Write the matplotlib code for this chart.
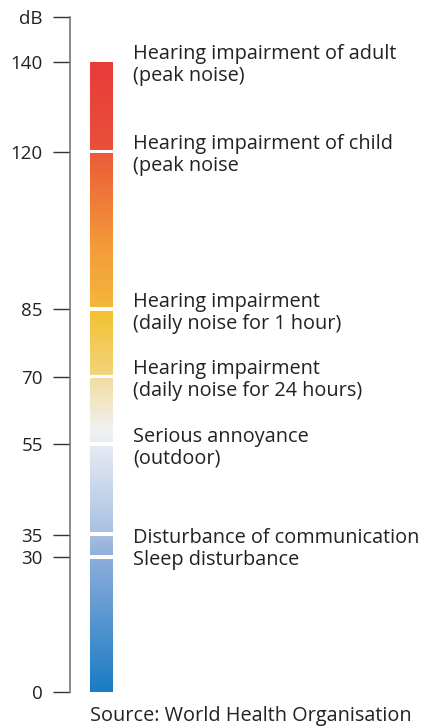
import numpy as np
import matplotlib.pyplot as plt
from matplotlib.colors import LinearSegmentedColormap

# segment boundaries (dB)
bounds = [0, 30, 35, 55, 70, 85, 120, 140]
tick_vals = [0, 30, 35, 55, 70, 85, 120, 140]
labels = {
    140: "Hearing impairment of adult\n(peak noise)",
    120: "Hearing impairment of child\n(peak noise",
    85: "Hearing impairment\n(daily noise for 1 hour)",
    70: "Hearing impairment\n(daily noise for 24 hours)",
    55: "Serious annoyance\n(outdoor)",
    35: "Disturbance of communication",
    30: "Sleep disturbance",
}
source = "Source: World Health Organisation"

# colour stops along the dB scale
stops = [(0, "#1a7cc4"), (30, "#8eaedb"), (35, "#a8c0e3"), (55, "#e8ecf3"),
         (58, "#f1f1f1"), (70, "#f2dc9e"), (71, "#f2d37a"), (85, "#f3c12f"),
         (86, "#f4b63b"), (100, "#f3983a"), (120, "#eb5a37"), (121, "#e9503a"),
         (140, "#e83c3a")]
cmap = LinearSegmentedColormap.from_list(
    "noise", [(v / 140, c) for v, c in stops])

fig = plt.figure(figsize=(4.27, 7.28), dpi=100)
ax = fig.add_axes([70 / 427, 36 / 728, 357 / 427, 675 / 728])
ax.set_xlim(0, 357)
ax.set_ylim(0, 150)

font = "Open Sans"
txt = "#222222"
fs = 14.3

gap = 0.45
for lo, hi in zip(bounds[:-1], bounds[1:]):
    y0 = lo + (gap if lo > 0 else 0)
    y1 = hi - (gap if hi < 140 else 0)
    grad = np.linspace(y0, y1, 200).reshape(-1, 1) / 140
    ax.imshow(grad, cmap=cmap, vmin=0, vmax=1, origin="lower",
              extent=[20, 43, y0, y1], aspect="auto", interpolation="bilinear")

for v, s in labels.items():
    ax.text(63, v - 0.7, s, ha="left", va="center", fontsize=fs,
            family=font, color=txt, linespacing=1.15)

for sp in ["top", "right", "bottom"]:
    ax.spines[sp].set_visible(False)
ax.spines["left"].set_color("#777777")
ax.spines["left"].set_linewidth(1.2)
ax.set_xticks([])
ax.set_yticks(tick_vals + [150])
ax.set_yticklabels([str(v) for v in tick_vals] + ["dB"])
ax.tick_params(axis="y", length=12.5, width=1, color="#333333", pad=7,
               labelsize=13.5, labelcolor=txt)
for t in ax.get_yticklabels():
    t.set_family(font)

fig.text(90 / 427, 1 - 716 / 728, source, ha="left", va="center",
         fontsize=fs, family=font, color=txt)

fig.savefig("out.png", dpi=100)
